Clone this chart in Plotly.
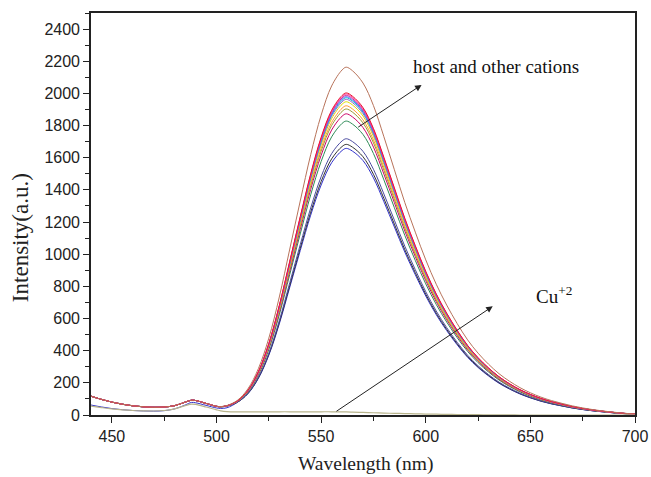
import plotly.graph_objects as go

wavelength = [440, 445, 450, 455, 460, 465, 470, 475, 480, 485, 488, 490, 495, 500, 502,
              505, 510, 515, 520, 525, 530, 535, 540, 545, 550, 555, 560, 562,
              565, 570, 575, 580, 585, 590, 595, 600, 605, 610, 615, 620, 625, 630,
              635, 640, 645, 650, 655, 660, 665, 670, 675, 680, 685, 690, 695, 700]

# common short-wavelength background of the host spectra
host_base = [117, 97, 80, 67, 57, 51, 48, 50, 58, 80, 92, 90, 72, 52, 46,
             42, 38, 34, 31, 28, 26, 24, 22, 21, 20, 19, 18, 18,
             17, 16, 15, 14, 13, 12, 11, 10, 9, 8, 7, 6, 5, 5,
             4, 4, 3, 3, 2, 2, 2, 1, 1, 1, 1, 0, 0, 0]
low_base = [62, 50, 40, 33, 28, 25, 24, 27, 38, 62, 78, 76, 60, 42, 36,
            32] + host_base[16:]

# emission band relative to its peak
emission = [0, 0, 0, 0, 0, 0, 0, 0, 0, 0, 0, 0, 0, 0.001, 0.003,
            0.008, 0.025, 0.06, 0.12, 0.21, 0.33, 0.47, 0.61, 0.745, 0.86, 0.945, 0.992, 1.0,
            0.99, 0.955, 0.89, 0.80, 0.705, 0.61, 0.525, 0.445, 0.375, 0.315, 0.262, 0.215, 0.177, 0.145,
            0.118, 0.096, 0.078, 0.063, 0.051, 0.041, 0.033, 0.026, 0.020, 0.015, 0.011, 0.008, 0.005, 0.003]

cu_spectrum = [55, 46, 38, 32, 28, 26, 25, 28, 38, 58, 68, 66, 50, 32, 26,
               21, 19, 19, 19, 19, 20, 20, 20, 20, 20, 20, 19, 19,
               18, 16, 14, 12, 10, 9, 7, 6, 5, 4, 3, 2, 2, 1,
               1, 1, 0, 0, 0, 0, 0, 0, 0, 0, 0, 0, 0, 0]

peak_heights = [1640, 1665, 1700, 1810, 1855, 1885, 1905, 1930, 1945, 1955, 1962, 1970, 1978, 1985, 2145]
curve_colors = ['#3333CC', '#333333', '#4B4BA0', '#2E8B57', '#CC0066', '#999933', '#FF9933',
                '#DDDD00', '#9966CC', '#00BBCC', '#6666FF', '#CC3399', '#FF3399', '#E8182F', '#B8735A']
low_baseline = [True, False, False, False, False, False, False, False, False, False,
                False, False, False, False, False]

fig = go.Figure()
for peak, color, low in zip(peak_heights, curve_colors, low_baseline):
    base = low_base if low else host_base
    y = [b + peak * e for b, e in zip(base, emission)]
    fig.add_trace(go.Scatter(x=wavelength, y=y, mode='lines',
                             line=dict(color=color, width=1, shape='spline'),
                             showlegend=False, hoverinfo='skip'))

fig.add_trace(go.Scatter(x=wavelength, y=cu_spectrum, mode='lines',
                         line=dict(color='#B8B48C', width=1.2, shape='spline'),
                         showlegend=False, hoverinfo='skip'))

axis_common = dict(showline=True, linecolor='#222222', linewidth=1.6, mirror=True,
                   ticks='outside', ticklen=6, tickwidth=1.3, tickcolor='#222222',
                   showgrid=False, zeroline=False, automargin=False,
                   tickfont=dict(family='Liberation Sans, Arial', size=16, color='#222222'))

fig.update_xaxes(range=[440, 700], dtick=50, tick0=450,
                 minor=dict(dtick=25, tick0=450, ticks='outside', ticklen=4, tickcolor='#222222', tickwidth=1.2),
                 **axis_common)
fig.update_yaxes(range=[0, 2500], dtick=200, tick0=0,
                 minor=dict(dtick=100, ticks='outside', ticklen=4, tickcolor='#222222', tickwidth=1.2),
                 **axis_common)

serif = 'Liberation Serif, Times New Roman'
fig.add_annotation(x=0.504, y=-0.123, xref='paper', yref='paper', text='Wavelength (nm)',
                   showarrow=False, xanchor='center', yanchor='middle',
                   font=dict(family=serif, size=19.5, color='#222222'))
fig.add_annotation(x=-0.1305, y=0.44, xref='paper', yref='paper', text='Intensity(a.u.)',
                   showarrow=False, xanchor='center', yanchor='middle', textangle=-90,
                   font=dict(family=serif, size=23, color='#222222'))

fig.add_annotation(x=598, y=2053, ax=567, ay=1784, xref='x', yref='y', axref='x', ayref='y',
                   text='', showarrow=True, arrowhead=2, arrowsize=1.3, arrowwidth=1, arrowcolor='#222222')
fig.add_annotation(x=632, y=676, ax=556.6, ay=17, xref='x', yref='y', axref='x', ayref='y',
                   text='', showarrow=True, arrowhead=2, arrowsize=1.3, arrowwidth=1, arrowcolor='#222222')
fig.add_annotation(x=592.7, y=2165, xref='x', yref='y', text='host and other cations',
                   showarrow=False, xanchor='left', yanchor='middle',
                   font=dict(family=serif, size=19, color='#111111'))
fig.add_annotation(x=651.8, y=749, xref='x', yref='y', text='Cu<sup>+2</sup>',
                   showarrow=False, xanchor='left', yanchor='middle',
                   font=dict(family=serif, size=19, color='#111111'))

fig.update_layout(width=651, height=477, margin=dict(l=91, r=16, t=13, b=62),
                  paper_bgcolor='white', plot_bgcolor='white')

fig.write_html('out.html')
